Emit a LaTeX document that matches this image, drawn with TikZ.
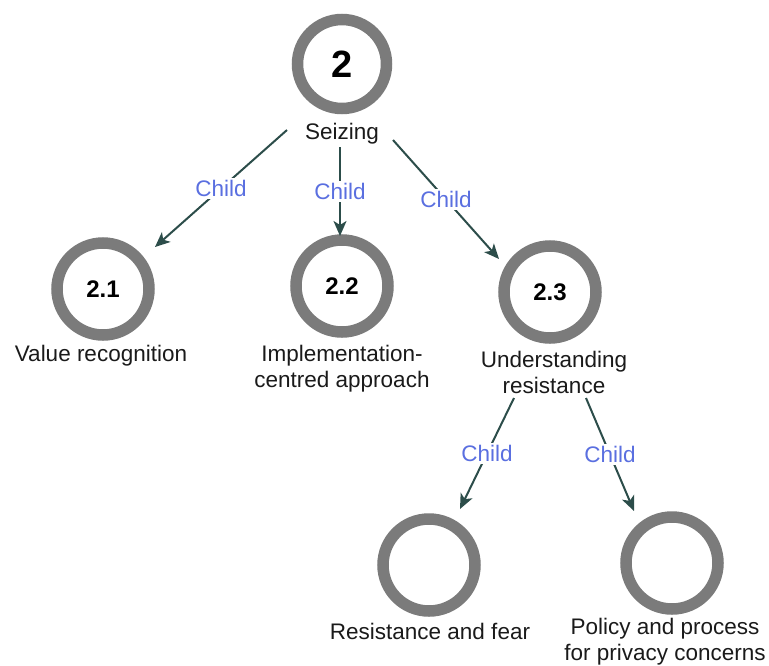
\documentclass[tikz,border=0pt]{standalone}
\usepackage{fontspec}
\setmainfont{Liberation Sans}
\usetikzlibrary{arrows.meta}
\definecolor{ringgray}{HTML}{7B7B7B}
\definecolor{linkgreen}{HTML}{2C4D4A}
\definecolor{childblue}{HTML}{5A6FE0}
\definecolor{txt}{HTML}{1A1A1A}
\tikzset{
  ring/.style={circle, draw=ringgray, line width=11.5pt, minimum size=#1, inner sep=0pt,
    font=\bfseries\fontsize{24}{28}\selectfont, text=black},
  ring/.default=92pt,
  caption/.style={align=center, text=txt, font=\fontsize{22.5}{26}\selectfont, inner sep=0pt},
  link/.style={draw=linkgreen, line width=2pt,
    -{Stealth[length=15pt, width=13pt, inset=4pt]}},
  childlbl/.style={fill=white, text=childblue, inner sep=2pt,
    font=\fontsize{22.5}{27}\selectfont}
}
\begin{document}
\begin{tikzpicture}[x=1pt,y=-1pt]
  \useasboundingbox (0,0) rectangle (769,665);

  % topic circles
  \node[ring=89pt, font=\bfseries\fontsize{38}{44}\selectfont] (n2) at (342,64) {2};
  \node[ring] (n21) at (103,289) {2.1};
  \node[ring] (n22) at (342,286) {2.2};
  \node[ring] (n23) at (550,292) {2.3};
  \node[ring] (n231) at (429,565) {};
  \node[ring] (n232) at (672,563) {};

  % captions
  \node[caption] (l2) at (342,134) {Seizing};
  \node[caption] (l21) at (101,356) {Value recognition};
  \node[caption] (l22) at (342,369) {Implementation-\\centred approach};
  \node[caption] (l23) at (554,372) {Understanding\\resistance};
  \node[caption] (l231) at (430,631) {Resistance and fear};
  \node[caption] (l232) at (665,642) {Policy and process\\for privacy concerns};

  % connector end points
  \coordinate (a1) at (287,130);  \coordinate (b1) at (155,247);
  \coordinate (a2) at (340,147);  \coordinate (b2) at (340,236);
  \coordinate (a3) at (393,140);  \coordinate (b3) at (499,259);
  \coordinate (a4) at (514,398);  \coordinate (b4) at (460,509);
  \coordinate (a5) at (586,398);  \coordinate (b5) at (634,511);

  % child links
  \draw[link] (a1) -- node[childlbl] {Child} (b1);
  \draw[link] (a2) -- node[childlbl] {Child} (b2);
  \draw[link] (a3) -- node[childlbl] {Child} (b3);
  \draw[link] (a4) -- node[childlbl] {Child} (b4);
  \draw[link] (a5) -- node[childlbl] {Child} (b5);
\end{tikzpicture}
\end{document}
